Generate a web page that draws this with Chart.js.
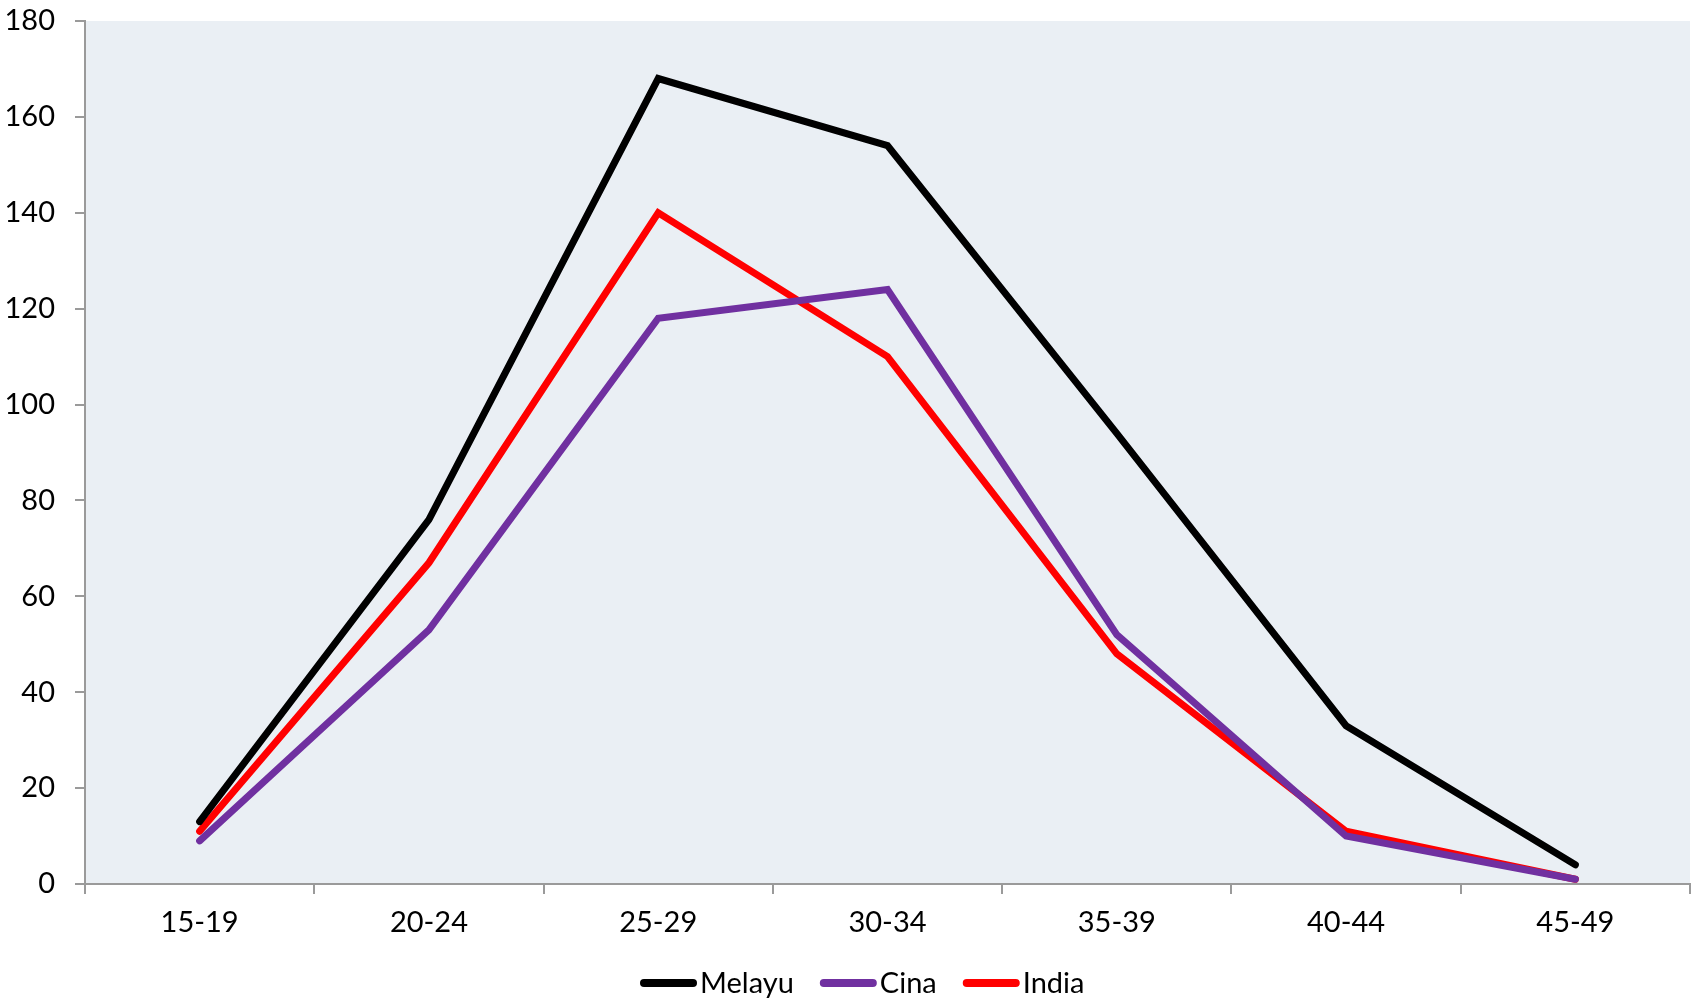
<!DOCTYPE html>
<html>
<head>
<meta charset="utf-8">
<script src="https://cdn.jsdelivr.net/npm/chart.js@4/dist/chart.umd.min.js"></script>
<style>
  html, body { margin: 0; padding: 0; background: #fff; }
  #wrap { width: 1694px; height: 1000px; position: relative; }
</style>
</head>
<body>
<div id="wrap"><canvas id="chart"></canvas></div>
<script>
// Age groups and series values
const ageGroups = ['15-19', '20-24', '25-29', '30-34', '35-39', '40-44', '45-49'];
const melayu = [13, 76, 168, 154, 94, 33, 4];
const cina = [9, 53, 118, 124, 52, 10, 1];
const india = [11, 67, 140, 110, 48, 11, 1];

const FONT = 'Lato, "Open Sans", sans-serif';
const AXIS_GREY = '#9a9a9a';

function lineDataset(label, data, color) {
    return {
        label: label,
        data: data,
        borderColor: color,
        backgroundColor: color,
        borderWidth: 7,
        borderCapStyle: 'round',
        borderJoinStyle: 'miter',
        pointRadius: 0,
        pointHoverRadius: 0,
        tension: 0,
        fill: false
    };
}

// Light plot area background
const plotBackground = {
    id: 'plotBackground',
    beforeDraw(chart) {
        const { ctx, chartArea: a } = chart;
        ctx.save();
        ctx.fillStyle = '#eaeff4';
        ctx.fillRect(a.left, a.top, a.right - a.left, a.bottom - a.top);
        ctx.restore();
    }
};

// Legend drawn close to the original: short round-capped line, text right after it
const bottomLegend = {
    id: 'bottomLegend',
    afterDraw(chart) {
        const ctx = chart.ctx;
        const y = 983;
        let x = 640;
        ctx.save();
        ctx.font = '29px ' + FONT;
        ctx.textBaseline = 'middle';
        chart.data.datasets.forEach(ds => {
            ctx.strokeStyle = ds.borderColor;
            ctx.lineWidth = 8;
            ctx.lineCap = 'round';
            ctx.beginPath();
            ctx.moveTo(x + 4, y);
            ctx.lineTo(x + 53, y);
            ctx.stroke();
            x += 60;
            ctx.fillStyle = '#000';
            ctx.fillText(ds.label, x, y + 1);
            x += ctx.measureText(ds.label).width + 26;
        });
        ctx.restore();
    }
};

new Chart(document.getElementById('chart'), {
    type: 'line',
    data: {
        labels: ageGroups,
        datasets: [
            lineDataset('Melayu', melayu, '#000000'),
            lineDataset('Cina', cina, '#7030a0'),
            lineDataset('India', india, '#ff0000')
        ]
    },
    options: {
        responsive: true,
        maintainAspectRatio: false,
        animation: false,
        layout: { padding: { top: 21, right: 4, left: 0, bottom: 0 } },
        plugins: {
            legend: { display: false },
            tooltip: { enabled: false }
        },
        scales: {
            x: {
                offset: true,
                grid: {
                    offset: true,
                    drawOnChartArea: false,
                    drawTicks: true,
                    tickLength: 10,
                    color: AXIS_GREY,
                    lineWidth: 2
                },
                border: { color: AXIS_GREY, width: 2 },
                ticks: {
                    color: '#000',
                    font: { family: FONT, size: 29 },
                    padding: 11,
                    maxRotation: 0
                },
                afterFit(scale) {
                    scale.height = 116;
                    scale.paddingLeft = 0;
                    scale.paddingRight = 0;
                }
            },
            y: {
                min: 0,
                max: 180,
                grid: {
                    drawOnChartArea: false,
                    drawTicks: true,
                    tickLength: 10,
                    color: AXIS_GREY,
                    lineWidth: 2
                },
                border: { color: AXIS_GREY, width: 2 },
                ticks: {
                    stepSize: 20,
                    color: '#000',
                    font: { family: FONT, size: 29 },
                    padding: 20
                },
                afterFit(scale) {
                    scale.width = 85;
                    scale.paddingTop = 0;
                    scale.paddingBottom = 0;
                }
            }
        }
    },
    plugins: [plotBackground, bottomLegend]
});
</script>
</body>
</html>
